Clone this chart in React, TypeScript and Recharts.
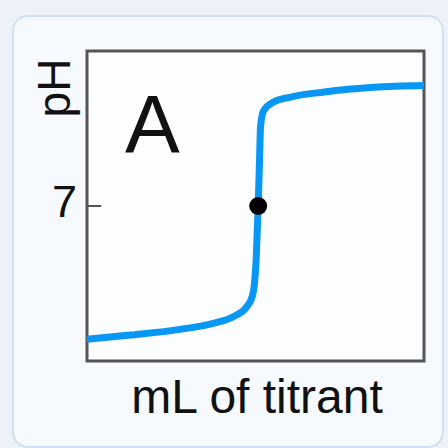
import { Line, LineChart, ReferenceArea, ReferenceDot, ReferenceLine, XAxis, YAxis } from "recharts";

// titration curve: volume of titrant added (mL) vs. pH
const TITRANT_ML = [0, 6.4, 13.8, 18.7, 21.7, 23.7, 24.5, 24.85, 25.1, 25.4, 25.6, 25.75, 26.2, 27.7, 30.2, 35.2, 42.6, 50];
const PH_VALUES = [0.98, 1.17, 1.43, 1.7, 2.0, 2.45, 2.9, 3.5, 4.6, 7.0, 9.1, 10.6, 11.3, 11.7, 11.92, 12.15, 12.36, 12.44];
const ML_DOMAIN = [0, 50];
const PH_DOMAIN = [0, 14];
const PH_TICKS = [7];
const EQUIVALENCE = { ml: 25.4, ph: 7 };

const curve = TITRANT_ML.map((ml, i) => ({ ml, ph: PH_VALUES[i] }));

const FONT = "Liberation Sans, Arial, Helvetica, sans-serif";
const BLUE = "#0897f5";
const FRAME = "#555";

function PhTick({ x, y, payload }: any) {
  return (
    <text x={x} y={y + 11} textAnchor="end" fontSize={45} fontFamily={FONT} fill="#111">
      {payload.value}
    </text>
  );
}

// panel letter, drawn inside the plot frame's top-left corner
function PanelLetter({ viewBox }: any) {
  return (
    <text x={viewBox.x + 38} y={viewBox.y + 101} fontSize={82} fontFamily={FONT} fill="#111">
      A
    </text>
  );
}

export default function App() {
  return (
    <div style={{ position: "absolute", left: 0, top: 0, width: 448, height: 448, background: "#edf2f8", overflow: "hidden" }}>
      <div
        style={{
          position: "absolute",
          left: 12,
          top: 15,
          width: 428,
          height: 429,
          border: "2px solid #cfe0f3",
          borderRadius: 16,
          background: "#f6f9fd",
        }}
      />
      <div style={{ position: "absolute", left: 0, top: 0 }}>
        <LineChart width={448} height={448} data={curve} margin={{ top: 51, right: 24, left: 0, bottom: 0 }}>
          <ReferenceArea
            x1={ML_DOMAIN[0]}
            x2={ML_DOMAIN[1]}
            y1={PH_DOMAIN[0]}
            y2={PH_DOMAIN[1]}
            fill="#fcfdfe"
            fillOpacity={1}
            stroke={FRAME}
            strokeWidth={3}
            label={<PanelLetter />}
          />
          <XAxis dataKey="ml" type="number" domain={ML_DOMAIN} height={87} axisLine={false} tickLine={false} tick={false} />
          <YAxis
            type="number"
            domain={PH_DOMAIN}
            ticks={PH_TICKS}
            width={87}
            axisLine={false}
            tickLine={false}
            tickMargin={4}
            tick={<PhTick />}
          />
          <ReferenceLine
            segment={[
              { x: 0, y: 7 },
              { x: 2.1, y: 7 },
            ]}
            stroke={FRAME}
            strokeWidth={2}
          />
          <Line
            type="monotone"
            dataKey="ph"
            stroke={BLUE}
            strokeWidth={7}
            dot={false}
            activeDot={false}
            isAnimationActive={false}
          />
          <ReferenceDot x={EQUIVALENCE.ml} y={EQUIVALENCE.ph} r={9} fill="#000" stroke="none" />
          <text x={70} y={88} transform="rotate(-90 70 88)" textAnchor="middle" fontSize={46} fontFamily={FONT} fill="#111">
            pH
          </text>
          <text x={257} y={413} textAnchor="middle" fontSize={48} fontFamily={FONT} fill="#111">
            mL of titrant
          </text>
        </LineChart>
      </div>
    </div>
  );
}
